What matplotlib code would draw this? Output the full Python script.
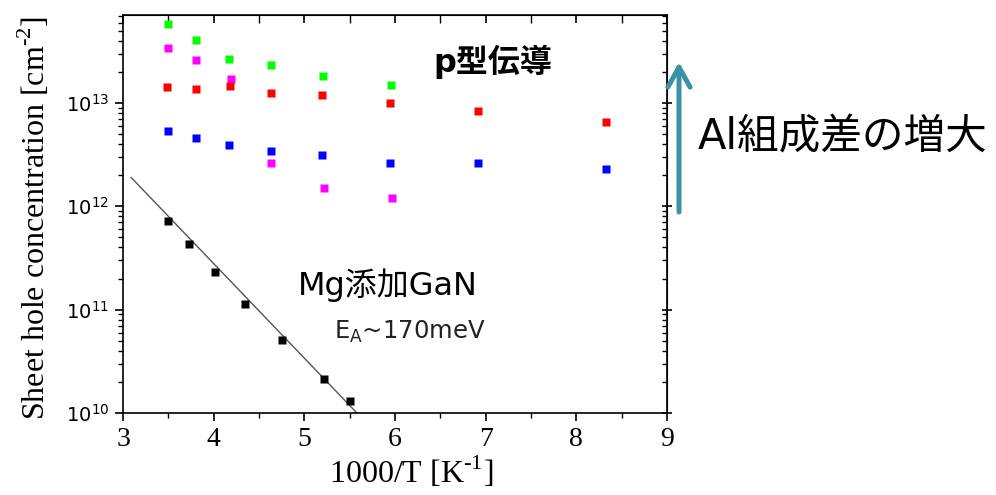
import numpy as np
import matplotlib
matplotlib.use("Agg")
import matplotlib.pyplot as plt
from matplotlib.patches import FancyArrowPatch
from matplotlib.transforms import IdentityTransform
from matplotlib.ticker import FixedLocator, NullFormatter, LogLocator

plt.rcParams['mathtext.fontset'] = 'custom'
plt.rcParams['mathtext.rm'] = 'Liberation Serif'

# sheet hole concentration vs 1000/T for several AlGaN/GaN structures
x_green = [3.50, 3.81, 4.17, 4.63, 5.21, 5.96]
y_green = [5.8e13, 4.07e13, 2.67e13, 2.34e13, 1.82e13, 1.50e13]

x_magenta = [3.50, 3.80, 4.19, 4.63, 5.22, 5.97]
y_magenta = [3.44e13, 2.60e13, 1.71e13, 2.61e12, 1.52e12, 1.21e12]

x_red = [3.49, 3.80, 4.18, 4.63, 5.20, 5.94, 6.92, 8.33]
y_red = [1.43e13, 1.37e13, 1.45e13, 1.26e13, 1.20e13, 1.00e13, 8.4e12, 6.5e12]

x_blue = [3.50, 3.81, 4.17, 4.63, 5.20, 5.94, 6.92, 8.33]
y_blue = [5.35e12, 4.57e12, 3.88e12, 3.42e12, 3.15e12, 2.60e12, 2.60e12, 2.29e12]

# Mg doped GaN reference and its Arrhenius fit
x_mg = [3.50, 3.73, 4.02, 4.35, 4.75, 5.22, 5.50]
y_mg = [7.27e11, 4.35e11, 2.29e11, 1.13e11, 5.04e10, 2.11e10, 1.31e10]
x_fit = [3.09, 5.58]
y_fit = [1.9e12, 1.0e10]

x_ticks = [3, 4, 5, 6, 7, 8, 9]
y_ticks = [1e10, 1e11, 1e12, 1e13]
y_ticklabels = [r'$\mathregular{10^{10}}$', r'$\mathregular{10^{11}}$',
                r'$\mathregular{10^{12}}$', r'$\mathregular{10^{13}}$']

fig = plt.figure(figsize=(9.96, 4.95), dpi=100)
ax = fig.add_axes([123/996, 1 - 413/495, 544/996, 398/495])

ax.plot(x_fit, y_fit, color='#555555', lw=1.0, zorder=2)
ms = 6
ax.plot(x_green, y_green, 's', color='#00ff00', ms=ms, mec='none', zorder=3)
ax.plot(x_magenta, y_magenta, 's', color='#ff00ff', ms=ms, mec='none', zorder=3)
ax.plot(x_red, y_red, 's', color='#ff0000', ms=ms, mec='none', zorder=3)
ax.plot(x_blue, y_blue, 's', color='#0000ff', ms=ms, mec='none', zorder=3)
ax.plot(x_mg, y_mg, 's', color='black', ms=ms, mec='none', zorder=3)

ax.set_yscale('log')
ax.set_xlim(3, 9)
ax.set_ylim(1e10, 7.1e13)

ax.xaxis.set_major_locator(FixedLocator(x_ticks))
ax.xaxis.set_minor_locator(FixedLocator(np.arange(3.5, 9, 1.0)))
ax.set_xticklabels([str(t) for t in x_ticks], fontfamily='Liberation Serif', fontsize=20)
ax.yaxis.set_major_locator(FixedLocator(y_ticks))
ax.yaxis.set_minor_locator(LogLocator(base=10, subs=np.arange(2, 10)))
ax.yaxis.set_minor_formatter(NullFormatter())
ax.set_yticklabels(y_ticklabels, fontsize=14)

for s in ax.spines.values():
    s.set_linewidth(1.2)
ax.tick_params(which='major', direction='out', length=6, width=1.2, pad=4)
ax.tick_params(which='minor', direction='out', length=3.5, width=1.0)

# mirrored inner ticks on top and right
top = ax.secondary_xaxis('top')
top.xaxis.set_major_locator(FixedLocator(x_ticks))
top.xaxis.set_minor_locator(FixedLocator(np.arange(3.5, 9, 1.0)))
top.tick_params(which='major', direction='in', length=6, width=1.2, labeltop=False)
top.tick_params(which='minor', direction='in', length=6, width=1.0)
right = ax.secondary_yaxis('right')
right.yaxis.set_major_locator(FixedLocator(y_ticks))
right.yaxis.set_minor_locator(LogLocator(base=10, subs=np.arange(2, 10)))
right.yaxis.set_minor_formatter(NullFormatter())
right.tick_params(which='major', direction='inout', length=7, width=1.2, labelright=False)
right.tick_params(which='minor', direction='in', length=3.5, width=1.0)

ax.set_xlabel(r'1000/T [K$^{\text{-1}}$]', fontfamily='Liberation Serif', fontsize=23)
ax.xaxis.set_label_coords(0.53, -0.105)
ax.set_ylabel(r'Sheet hole concentration [cm$^{\text{-2}}$]',
              fontfamily='Liberation Serif', fontsize=23)
ax.yaxis.set_label_coords(-0.13, 0.49)

jp = ['DejaVu Sans', 'Noto Sans CJK JP']
ax.text(0.57, 0.883, 'p型伝導', transform=ax.transAxes, fontfamily=jp,
        fontsize=23, fontweight='bold', ha='left', va='center')
ax.text(0.322, 0.322, 'Mg添加GaN', transform=ax.transAxes, fontfamily=jp,
        fontsize=23, ha='left', va='center')
ax.text(0.387, 0.205, r'E$_\mathregular{A}$~170meV', transform=ax.transAxes,
        fontfamily='DejaVu Sans', fontsize=17.5, color='#222222', ha='left', va='center')

# arrow and caption outside the plot
arrow = FancyArrowPatch((679, 495 - 212), (679, 495 - 62),
                        arrowstyle='->,head_length=0.72,head_width=0.4',
                        mutation_scale=20, lw=3.6, color='#3a92a5',
                        shrinkA=0, shrinkB=0)
arrow.set_transform(IdentityTransform())
fig.add_artist(arrow)
fig.text(698 / 996, 1 - 137 / 495, 'Al組成差の増大', fontfamily=jp, fontsize=30,
         ha='left', va='center')

fig.savefig('out.png', dpi=100)
